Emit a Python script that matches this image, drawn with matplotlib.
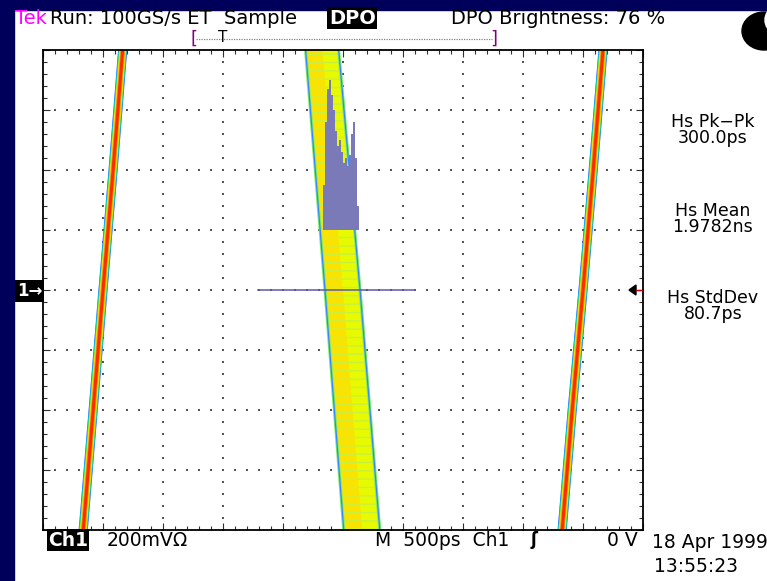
import numpy as np
import matplotlib.pyplot as plt
from matplotlib.patches import Rectangle, Ellipse, Polygon

# scope settings: 500 ps/div (x in ns), 200 mV/div (y in mV)
x_lim = [0.0, 5.0]
y_lim = [-800, 800]

# rising edges (ns at given mV)
edge_v = [-840, -400, 0, 400, 840]
edge1_t = [0.327, 0.418, 0.500, 0.584, 0.672]
edge2_t = [4.318, 4.410, 4.500, 4.585, 4.675]

# falling edge band (left / right border, ns)
band_v = [-840, 0, 840]
band_left = [2.514, 2.350, 2.180]
band_right = [2.815, 2.642, 2.455]

# histogram (bins in ns, heights in mV above the 200 mV line)
hist_t = [2.333, 2.350, 2.367, 2.383, 2.400, 2.417, 2.433, 2.450, 2.467,
          2.483, 2.500, 2.517, 2.533, 2.550, 2.567, 2.583, 2.600, 2.617]
hist_h = [150, 360, 470, 500, 450, 400, 330, 280, 300,
          260, 225, 240, 215, 250, 320, 360, 240, 80]
hist_base = 200
hist_window = [1.79, 3.10]

W, H = 767, 581
fig = plt.figure(figsize=(W / 100, H / 100), dpi=100, facecolor='white')
navy = '#00005a'
fig.patches.append(Rectangle((0, 0), 14 / W, 1, transform=fig.transFigure, color=navy, zorder=0))
fig.patches.append(Rectangle((0, 1 - 10 / H), 1, 10 / H, transform=fig.transFigure, color=navy, zorder=0))

ax = fig.add_axes([43 / W, (H - 530) / H, 600 / W, 480 / H])
ax.set_xlim(x_lim)
ax.set_ylim(y_lim)

# graticule dots
for t in np.arange(0.5, 5.0, 0.5):
    vv = np.arange(-800, 801, 40)
    ax.scatter(np.full(len(vv), t), vv, s=2.2, marker='s', color='#555555', lw=0, zorder=1)
for v in np.arange(-600, 601, 200):
    tt = np.arange(0, 5.01, 0.1)
    ax.scatter(tt, np.full(len(tt), v), s=2.2, marker='s', color='#555555', lw=0, zorder=1)

# rising edges as colour-graded traces
layers = [('#2a5cff', 6.6), ('#00d8e8', 6.0), ('#3ee03e', 5.3), ('#f8f800', 4.6),
          ('#ff9a00', 3.6), ('#ff2a00', 2.2)]
for tr in (edge1_t, edge2_t):
    for c, lw in layers:
        ax.plot(tr, edge_v, color=c, lw=lw, solid_capstyle='butt', zorder=2)

# falling edge band
plt.rcParams['hatch.linewidth'] = 1.0
ax.fill_betweenx(band_v, band_left, band_right, color='#e8fa00', lw=0, zorder=2)
inner = [l + 0.5 * (r - l) for l, r in zip(band_left, band_right)]
ax.fill_betweenx(band_v, band_left, inner, color='#ffe000', alpha=0.85, lw=0, zorder=2)
ax.fill_betweenx(band_v, band_left, band_right, facecolor='none', edgecolor='#c8f040',
                 hatch='--', lw=0, zorder=2)
for b in (band_left, band_right):
    ax.plot(b, band_v, color='#7ee86a', lw=2.2, zorder=2)
    ax.plot(b, band_v, color='#2f8cff', lw=0.9, zorder=2)

# histogram
ax.bar(hist_t, hist_h, width=hist_t[1] - hist_t[0], bottom=hist_base, align='edge',
       color='#7a7ab8', lw=0, zorder=3)
ax.plot(hist_window, [0, 0], color='#5a5aa6', lw=1.1, zorder=4)

ax.set_xticks(np.arange(0, 5.01, 0.5))
ax.set_xticks(np.arange(0, 5.01, 0.1), minor=True)
ax.set_yticks(np.arange(-800, 801, 200))
ax.set_yticks(np.arange(-800, 801, 40), minor=True)
ax.tick_params(which='both', direction='in', top=True, right=True,
               labelbottom=False, labelleft=False, color='#303030')
ax.tick_params(which='major', length=5, width=0.8)
ax.tick_params(which='minor', length=3, width=0.8)
for s in ax.spines.values():
    s.set_linewidth(1.3)
    s.set_zorder(5)

narrow = ['Liberation Sans Narrow', 'DejaVu Sans']


def ftext(px, py, s, **kw):
    kw.setdefault('family', narrow)
    kw.setdefault('fontsize', 14)
    kw.setdefault('va', 'center')
    return fig.text(px / W, 1 - py / H, s, **kw)


# top status line
ftext(15, 19, 'Tek', color='#ff00ff')
ftext(50, 19, 'Run: 100GS/s ET  Sample')
ftext(329, 18, 'DPO', color='white', fontweight='bold',
      bbox=dict(boxstyle='square,pad=0.08', fc='black', ec='none'))
ftext(451, 19, 'DPO Brightness: 76 %')

# trigger position bar
fig.lines.append(plt.Line2D([196 / W, 492 / W], [1 - 39 / H, 1 - 39 / H], transform=fig.transFigure,
                            color='#808080', lw=0.9, ls=(0, (1, 1))))
ftext(191, 39, '[', color='#800080', fontsize=13)
ftext(490, 39, ']', color='#800080', fontsize=13)
ftext(218, 37, 'T', fontsize=11)

# black blob top right
fig.patches.append(Ellipse((764 / W, 1 - 31 / H), 44 / W, 38 / H, transform=fig.transFigure,
                           color='black', zorder=3))
fig.patches.append(Ellipse((773 / W, 1 - 20 / H), 16 / W, 22 / H, transform=fig.transFigure,
                           color='white', zorder=4))

# channel marker and trigger level marker
ftext(17, 291, '1\u2192', color='white', fontweight='bold', fontsize=12,
      family=['DejaVu Sans'],
      bbox=dict(boxstyle='square,pad=0.12', fc='black', ec='none'))
fig.patches.append(Polygon([[629 / W, 1 - 290 / H], [636 / W, 1 - 285 / H], [636 / W, 1 - 295 / H]],
                           closed=True, transform=fig.transFigure, color='black'))
fig.lines.append(plt.Line2D([636 / W, 642 / W], [1 - 290 / H, 1 - 290 / H], transform=fig.transFigure,
                            color='#c00000', lw=1))

# measurement readouts
meas = [('Hs Pk\u2212Pk', '300.0ps', 122), ('Hs Mean', '1.9782ns', 211), ('Hs StdDev', '80.7ps', 298)]
for name, val, py in meas:
    ftext(713, py + 8, name + '\n' + val, ha='center', multialignment='center',
          family=['DejaVu Sans'], fontsize=12.5, linespacing=0.88)

# bottom readout
ftext(48, 540, 'Ch1', color='white', fontweight='bold', fontsize=13.5,
      bbox=dict(boxstyle='square,pad=0.06', fc='black', ec='none'))
ftext(107, 540, '200mV\u03a9', fontsize=13.5)
ftext(375, 540, 'M  500ps  Ch1', fontsize=13.5)
ftext(531, 540, '\u0283', family=['DejaVu Sans'], fontsize=12, fontweight='bold')
ftext(607, 540, '0 V', fontsize=13.5)
ftext(652, 543, '18 Apr 1999', fontsize=13.5)
ftext(654, 566, '13:55:23', fontsize=13.5)

fig.savefig('out.png', dpi=100, facecolor='white')
